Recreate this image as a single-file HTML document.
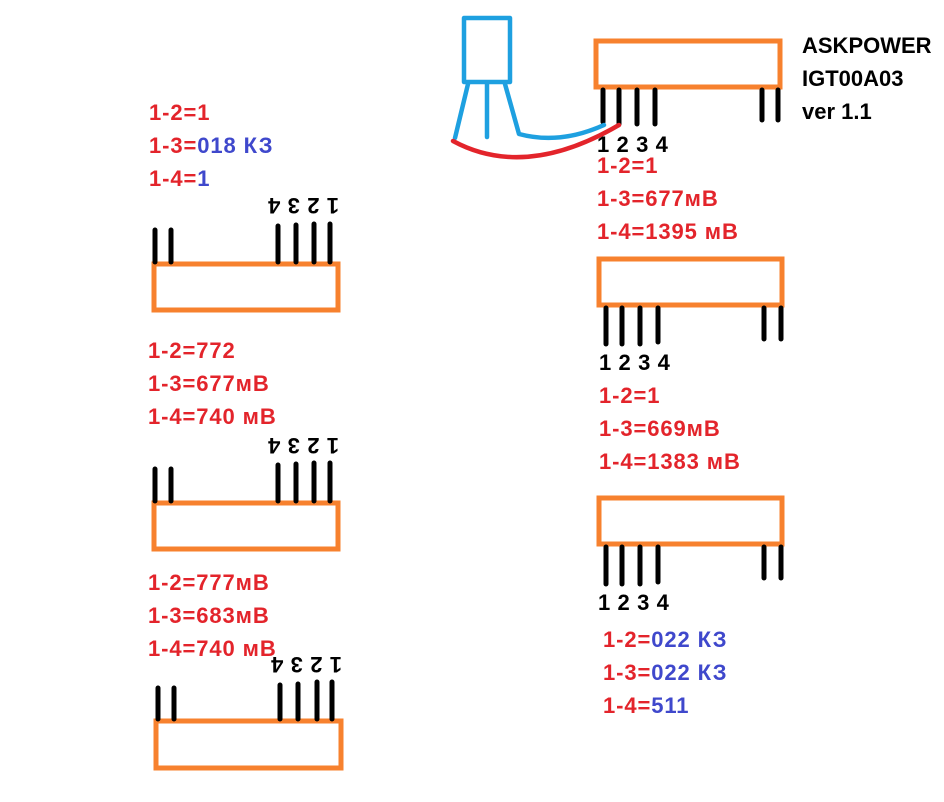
<!DOCTYPE html>
<html><head><meta charset="utf-8"><style>
html,body{margin:0;padding:0;background:#fff}
svg{display:block}
text{font-family:"Liberation Sans",sans-serif;font-weight:bold;font-size:22px;letter-spacing:0.9px}
.r{fill:#e3242b}.b{fill:#3f48cc}.k{fill:#000}
.n{letter-spacing:0.6px}
.t{letter-spacing:0px}
</style></head><body>
<svg width="944" height="802" viewBox="0 0 944 802" xmlns="http://www.w3.org/2000/svg">
<g fill="none" stroke="#f7812e" stroke-width="5">
<rect x="596" y="41" width="184" height="46"/>
<rect x="599" y="259" width="183" height="46"/>
<rect x="599" y="498" width="183" height="46"/>
<rect x="154" y="264" width="184" height="46"/>
<rect x="154" y="503" width="184" height="46"/>
<rect x="156" y="721" width="185" height="47"/>
</g>
<g stroke="#000" stroke-width="5" stroke-linecap="round">
<line x1="603" y1="90" x2="603" y2="122"/><line x1="619" y1="90" x2="619" y2="124"/><line x1="637" y1="90" x2="637" y2="124"/><line x1="655" y1="90" x2="655" y2="124"/>
<line x1="762" y1="90" x2="762" y2="120"/><line x1="778" y1="90" x2="778" y2="120"/>
<line x1="606" y1="308" x2="606" y2="344"/><line x1="622" y1="308" x2="622" y2="344"/><line x1="640" y1="308" x2="640" y2="344"/><line x1="658" y1="308" x2="658" y2="342"/>
<line x1="764" y1="308" x2="764" y2="339"/><line x1="781" y1="308" x2="781" y2="339"/>
<line x1="606" y1="547" x2="606" y2="584"/><line x1="622" y1="547" x2="622" y2="584"/><line x1="640" y1="547" x2="640" y2="584"/><line x1="658" y1="547" x2="658" y2="582"/>
<line x1="764" y1="547" x2="764" y2="578"/><line x1="781" y1="547" x2="781" y2="578"/>
<line x1="155" y1="230" x2="155" y2="262"/><line x1="171" y1="230" x2="171" y2="262"/>
<line x1="278" y1="226" x2="278" y2="262"/><line x1="296" y1="225" x2="296" y2="262"/><line x1="314" y1="224" x2="314" y2="262"/><line x1="330" y1="224" x2="330" y2="262"/>
<line x1="155" y1="469" x2="155" y2="501"/><line x1="171" y1="469" x2="171" y2="501"/>
<line x1="278" y1="465" x2="278" y2="501"/><line x1="296" y1="464" x2="296" y2="501"/><line x1="314" y1="463" x2="314" y2="501"/><line x1="330" y1="463" x2="330" y2="501"/>
<line x1="158" y1="688" x2="158" y2="719"/><line x1="174" y1="688" x2="174" y2="719"/>
<line x1="280" y1="685" x2="280" y2="719"/><line x1="298" y1="684" x2="298" y2="719"/><line x1="317" y1="682" x2="317" y2="719"/><line x1="332" y1="682" x2="332" y2="719"/>
</g>
<g fill="none" stroke="#1ea0e0" stroke-width="4.5" stroke-linecap="round" stroke-linejoin="round">
<rect x="464" y="18" width="46" height="64"/>
<line x1="468" y1="84" x2="455" y2="138"/>
<line x1="487" y1="84" x2="487" y2="137"/>
<path d="M505 84 L519 134 Q560 145 604 125"/>
</g>
<path d="M453 141 Q525 180 619 125" fill="none" stroke="#e3242b" stroke-width="4.5" stroke-linecap="round"/>
<text x="802" y="53" class="k t">ASKPOWER</text>
<text x="802" y="86" class="k t">IGT00A03</text>
<text x="802" y="119" class="k t">ver 1.1</text>
<text x="597" y="152" class="k n">1 2 3 4</text>
<text x="597" y="173" class="r">1-2=1</text>
<text x="597" y="206" class="r">1-3=677мВ</text>
<text x="597" y="239" class="r">1-4=1395 мВ</text>
<text x="599" y="370" class="k n">1 2 3 4</text>
<text x="599" y="403" class="r">1-2=1</text>
<text x="599" y="436" class="r">1-3=669мВ</text>
<text x="599" y="469" class="r">1-4=1383 мВ</text>
<text x="598" y="610" class="k n">1 2 3 4</text>
<text x="603" y="647" class="r">1-2=<tspan class="b">022 КЗ</tspan></text>
<text x="603" y="680" class="r">1-3=<tspan class="b">022 КЗ</tspan></text>
<text x="603" y="713" class="r">1-4=<tspan class="b">511</tspan></text>
<text x="149" y="120" class="r">1-2=1</text>
<text x="149" y="153" class="r">1-3=<tspan class="b">018 КЗ</tspan></text>
<text x="149" y="186" class="r">1-4=<tspan class="b">1</tspan></text>
<text x="0" y="0" class="k n" transform="translate(339 198) rotate(180)">1 2 3 4</text>
<text x="148" y="358" class="r">1-2=772</text>
<text x="148" y="391" class="r">1-3=677мВ</text>
<text x="148" y="424" class="r">1-4=740 мВ</text>
<text x="0" y="0" class="k n" transform="translate(339 438) rotate(180)">1 2 3 4</text>
<text x="148" y="590" class="r">1-2=777мВ</text>
<text x="148" y="623" class="r">1-3=683мВ</text>
<text x="148" y="656" class="r">1-4=740 мВ</text>
<text x="0" y="0" class="k n" transform="translate(342 657) rotate(180)">1 2 3 4</text>
</svg>
</body></html>
